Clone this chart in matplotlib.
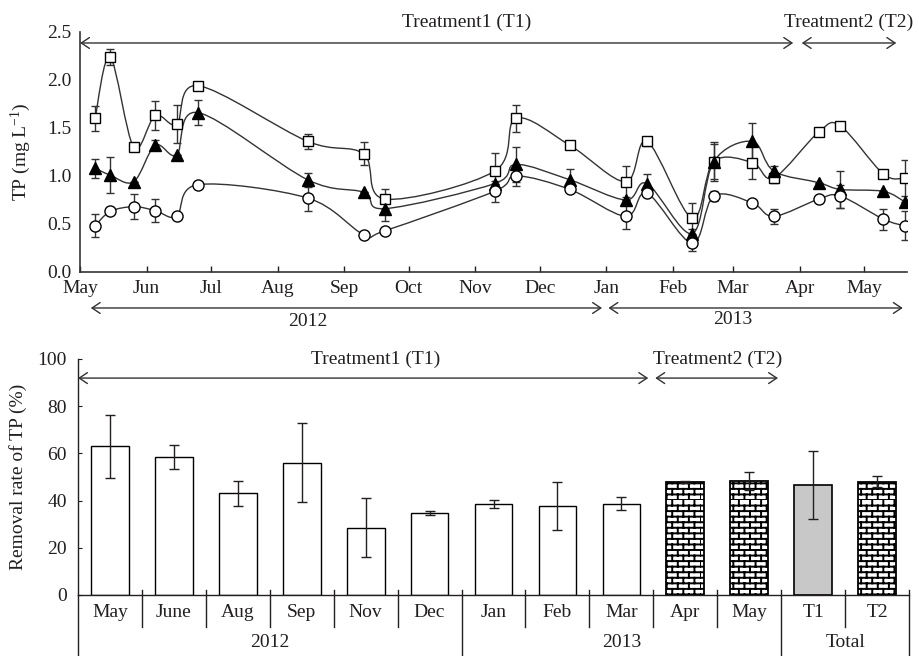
"""
TP concentration time series and monthly removal rates for the two treatments.
"""

import warnings

import matplotlib

matplotlib.use("Agg")

import matplotlib.dates as mdates
import matplotlib.hatch as mhatch
import matplotlib.pyplot as plt
import numpy as np
import pandas as pd
from matplotlib.patches import PathPatch
from matplotlib.path import Path

warnings.filterwarnings("ignore", message=".*hatch must consist.*")

# ---- TP concentrations (mg/L) ----
sample_dates = [
    "2012-05-08", "2012-05-15", "2012-05-26", "2012-06-05", "2012-06-15",
    "2012-06-25", "2012-08-15", "2012-09-10", "2012-09-20", "2012-11-10",
    "2012-11-20", "2012-12-15", "2013-01-10", "2013-01-20", "2013-02-10",
    "2013-02-20", "2013-03-10", "2013-03-20", "2013-04-10", "2013-04-20",
    "2013-05-10", "2013-05-20",
]
tp_inlet = [1.60, 2.24, 1.30, 1.63, 1.54, 1.94, 1.36, 1.23, 0.76, 1.05, 1.60,
            1.32, 0.94, 1.36, 0.56, 1.15, 1.14, 0.98, 1.46, 1.52, 1.02, 0.98]
tp_inlet_err = [0.13, 0.08, 0.0, 0.15, 0.20, 0.0, 0.08, 0.12, 0.10, 0.19, 0.14,
                0.0, 0.16, 0.05, 0.16, 0.20, 0.17, 0.05, 0.04, 0.0, 0.0, 0.19]
tp_middle = [1.08, 1.01, 0.94, 1.32, 1.22, 1.66, 0.96, 0.83, 0.66, 0.92, 1.12,
             0.96, 0.75, 0.92, 0.40, 1.15, 1.36, 1.05, 0.93, 0.86, 0.84, 0.73]
tp_middle_err = [0.10, 0.19, 0.0, 0.05, 0.0, 0.13, 0.07, 0.0, 0.13, 0.0, 0.18,
                 0.11, 0.0, 0.10, 0.05, 0.18, 0.19, 0.05, 0.0, 0.19, 0.0, 0.0]
tp_outlet = [0.48, 0.63, 0.68, 0.64, 0.58, 0.91, 0.77, 0.39, 0.43, 0.84, 1.00,
             0.86, 0.58, 0.82, 0.30, 0.79, 0.72, 0.58, 0.76, 0.79, 0.55, 0.48]
tp_outlet_err = [0.12, 0.0, 0.13, 0.12, 0.0, 0.0, 0.14, 0.0, 0.0, 0.11, 0.10,
                 0.0, 0.13, 0.0, 0.08, 0.05, 0.0, 0.08, 0.0, 0.12, 0.11, 0.15]

month_labels = ["May", "Jun", "Jul", "Aug", "Sep", "Oct", "Nov", "Dec",
                "Jan", "Feb", "Mar", "Apr", "May"]

# ---- removal rate of TP (%) ----
bar_labels = ["May", "June", "Aug", "Sep", "Nov", "Dec", "Jan", "Feb", "Mar",
              "Apr", "May", "T1", "T2"]
removal_rate = [63.0, 58.5, 43.2, 56.0, 28.5, 34.9, 38.6, 37.7, 38.7,
                47.7, 48.3, 46.7, 48.0]
removal_err = [13.3, 5.0, 5.3, 16.7, 12.4, 0.8, 1.6, 10.0, 2.7,
               0.4, 4.0, 14.5, 2.3]
bar_kind = ["T1"] * 9 + ["T2", "T2", "total", "T2"]
group_labels = [("2012", 0, 6), ("2013", 6, 11), ("Total", 11, 13)]

INK = "#231f20"
LINE = "#333333"


class BrickHatch(mhatch.HatchPatternBase):
    """Running-bond brick pattern, selected with the 'b' hatch character."""

    rows = 18
    cols = 9

    def __init__(self, hatch, density):
        on = "b" in hatch
        self.num_vertices = (self.rows + self.rows * self.cols) * 2 if on else 0

    def set_vertices_and_codes(self, vertices, codes):
        segs = []
        for k in range(self.rows):
            y0 = k / self.rows
            y1 = (k + 1) / self.rows
            segs.append(((0.0, y0), (1.0, y0)))
            shift = 0.5 * (k % 2)
            for j in range(self.cols):
                xv = (j + shift) / self.cols
                segs.append(((xv, y0), (xv, y1)))
        segs = np.asarray(segs).reshape(-1, 2)
        vertices[:] = segs
        codes[0::2] = Path.MOVETO
        codes[1::2] = Path.LINETO


mhatch._hatch_types.append(BrickHatch)


def smooth_path(x, y):
    """Catmull-Rom style Bezier path through the points."""
    pts = np.column_stack([x, y])
    padded = np.vstack([pts[0], pts, pts[-1]])
    verts = [pts[0]]
    codes = [Path.MOVETO]
    for i in range(len(pts) - 1):
        p0, p1, p2, p3 = padded[i], padded[i + 1], padded[i + 2], padded[i + 3]
        verts += [p1 + (p2 - p0) / 6.0, p2 - (p3 - p1) / 6.0, p2]
        codes += [Path.CURVE4] * 3
    return Path(verts, codes)


def arrow(ax, x0, x1, y, coords):
    ax.annotate(
        "",
        xy=(x1, y),
        xytext=(x0, y),
        xycoords=coords,
        textcoords=coords,
        arrowprops=dict(
            arrowstyle="<->,head_length=0.45,head_width=0.3",
            lw=1.0,
            color=LINE,
            shrinkA=0,
            shrinkB=0,
            mutation_scale=13,
        ),
        annotation_clip=False,
    )


plt.rcParams["font.family"] = ["Liberation Serif", "DejaVu Serif"]
plt.rcParams["mathtext.fontset"] = "custom"
plt.rcParams["mathtext.rm"] = "Liberation Serif"
plt.rcParams["mathtext.default"] = "regular"
plt.rcParams["font.size"] = 14
plt.rcParams["hatch.linewidth"] = 1.4
plt.rcParams["text.color"] = INK
plt.rcParams["axes.labelcolor"] = INK
plt.rcParams["xtick.color"] = INK
plt.rcParams["ytick.color"] = INK

fig = plt.figure(figsize=(9.2, 6.56), dpi=100)

# ================= time series =================
ax1 = fig.add_axes([0.0870, 0.5854, 0.8989, 0.3659])

xd = mdates.date2num(pd.to_datetime(sample_dates))
month_starts = mdates.date2num(pd.date_range("2012-05-01", "2013-05-01", freq="MS"))

series = [
    (tp_inlet, tp_inlet_err, dict(marker="s", mfc="white", ms=7.5)),
    (tp_middle, tp_middle_err, dict(marker="^", mfc="black", ms=8)),
    (tp_outlet, tp_outlet_err, dict(marker="o", mfc="white", ms=8)),
]
for values, errs, style in series:
    ax1.add_patch(PathPatch(smooth_path(xd, values), fill=False,
                            edgecolor=LINE, lw=1.0, zorder=1))
    ax1.errorbar(xd, values, yerr=errs, fmt="none", ecolor=LINE,
                 elinewidth=1.0, capsize=3, capthick=1.0, zorder=2)
    ax1.plot(xd, values, linestyle="none", mec="black", mew=1.0,
             zorder=3, **style)

ax1.set_xlim(mdates.date2num(pd.Timestamp("2012-05-01")),
             mdates.date2num(pd.Timestamp("2013-05-21")))
ax1.set_ylim(0, 2.5)
ax1.set_xticks(month_starts)
ax1.set_xticklabels(month_labels)
ax1.set_yticks(np.arange(0, 2.51, 0.5))
ax1.set_yticklabels([f"{v:.1f}" for v in np.arange(0, 2.51, 0.5)])
ax1.tick_params(axis="x", direction="in", length=4, width=1, pad=6)
ax1.tick_params(axis="y", direction="in", length=0, pad=6)
for side in ("top", "right"):
    ax1.spines[side].set_visible(False)
for side in ("left", "bottom"):
    ax1.spines[side].set_color(LINE)
    ax1.spines[side].set_linewidth(1.2)
ax1.set_ylabel("TP (mg L$^{-1}$)")
ax1.yaxis.set_label_coords(-0.057, 0.5)

d = lambda s: mdates.date2num(pd.Timestamp(s))
top_coords = ("data", "axes fraction")
arrow(ax1, d("2012-05-01"), d("2013-03-29"), 0.954, top_coords)
arrow(ax1, d("2013-04-02"), d("2013-05-16"), 0.954, top_coords)
ax1.text(d("2012-10-28"), 1.04, "Treatment1 (T1)", ha="center", va="center",
         transform=ax1.get_xaxis_transform())
ax1.text(d("2013-04-24"), 1.04, "Treatment2 (T2)", ha="center", va="center",
         transform=ax1.get_xaxis_transform())
arrow(ax1, d("2012-05-06"), d("2012-12-30"), -0.15, top_coords)
arrow(ax1, d("2013-01-02"), d("2013-05-19"), -0.15, top_coords)
ax1.text(d("2012-08-15"), -0.205, "2012", ha="center", va="center",
         transform=ax1.get_xaxis_transform())
ax1.text(d("2013-03-01"), -0.2, "2013", ha="center", va="center",
         transform=ax1.get_xaxis_transform())

# ================= removal rate bars =================
ax2 = fig.add_axes([0.0848, 0.0930, 0.9033, 0.3598])

pos = np.arange(len(bar_labels)) + 0.5
for p, v, e, kind in zip(pos, removal_rate, removal_err, bar_kind):
    if kind == "T2":
        ax2.bar(p, v, width=0.59, color="white", edgecolor="black",
                lw=1.3, hatch="b", zorder=2)
    elif kind == "total":
        ax2.bar(p, v, width=0.59, color="#c8c8c8", edgecolor="black",
                lw=1.2, zorder=2)
    else:
        ax2.bar(p, v, width=0.59, color="white", edgecolor="black",
                lw=1.0, zorder=2)
ax2.errorbar(pos, removal_rate, yerr=removal_err, fmt="none", ecolor=INK,
             elinewidth=1.0, capsize=3.5, capthick=1.0, zorder=3)

ax2.set_xlim(0, len(bar_labels))
ax2.set_ylim(0, 100)
ax2.set_yticks(np.arange(0, 101, 20))
ax2.set_xticks([])
ax2.tick_params(axis="y", direction="in", length=3, pad=8)
for side in ("top", "right"):
    ax2.spines[side].set_visible(False)
for side in ("left", "bottom"):
    ax2.spines[side].set_color(INK)
    ax2.spines[side].set_linewidth(1.0)
ax2.set_ylabel("Removal rate of TP (%)")
ax2.yaxis.set_label_coords(-0.061, 0.5)

sep = ax2.get_xaxis_transform()
long_edges = {0, 6, 11, 13}
for b in range(len(bar_labels) + 1):
    bottom = -0.26 if b in long_edges else -0.136
    ax2.plot([b, b], [0.02 if b else 0.0, bottom], color=INK, lw=1.0,
             transform=sep, clip_on=False)
for p, lab in zip(pos, bar_labels):
    ax2.text(p, -0.076, lab, ha="center", va="center", transform=sep)
for lab, a, b in group_labels:
    ax2.text((a + b) / 2, -0.203, lab, ha="center", va="center", transform=sep)

bar_coords = ("data", "axes fraction")
arrow(ax2, 0.0, 8.92, 0.919, bar_coords)
arrow(ax2, 9.03, 10.95, 0.919, bar_coords)
ax2.text(4.66, 1.0, "Treatment1 (T1)", ha="center", va="center", transform=sep)
ax2.text(10.0, 1.0, "Treatment2 (T2)", ha="center", va="center", transform=sep)

fig.savefig("out.png", dpi=100)
